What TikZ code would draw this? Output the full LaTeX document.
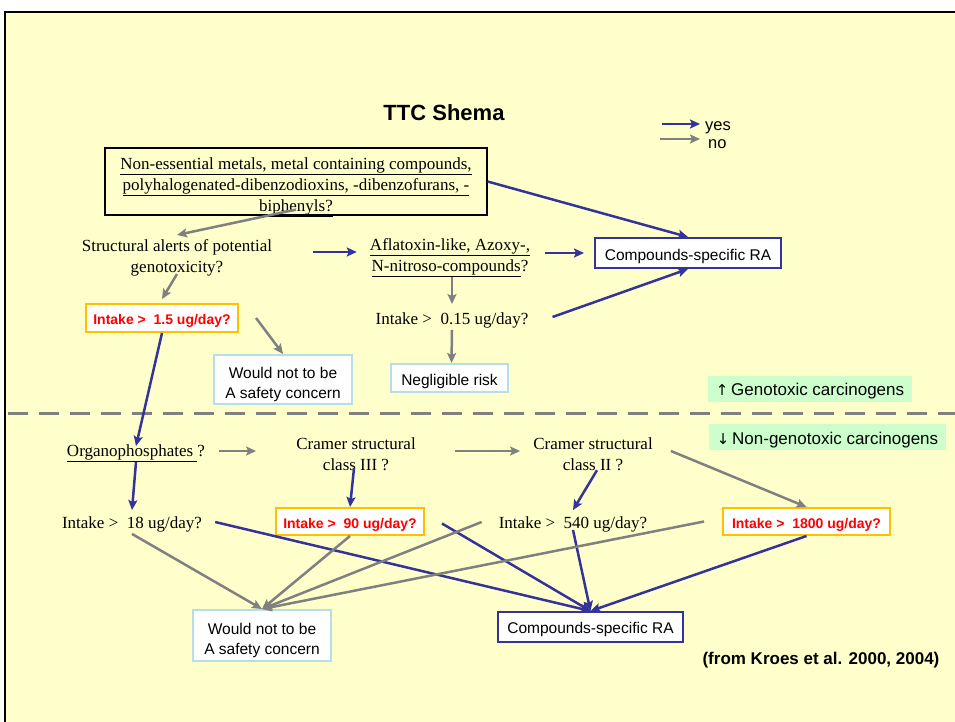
\documentclass[tikz,border=0pt]{standalone}
\usepackage{fontspec}
\setmainfont{Liberation Serif}
\setsansfont{Liberation Sans}
\newfontfamily\symfont{DejaVu Sans}
\usetikzlibrary{arrows.meta}
\definecolor{bgyellow}{HTML}{FFFFCC}
\definecolor{yesblue}{HTML}{333399}
\definecolor{nogray}{HTML}{808080}
\definecolor{orangeb}{HTML}{FFC000}
\definecolor{lblue}{HTML}{B7DDE8}
\definecolor{lgreen}{HTML}{CCFFCC}
\tikzset{
  serif/.style={font=\fontsize{17}{21}\selectfont, inner sep=0pt, align=center},
  tip/.style={-{Stealth[length=10pt,width=9pt,inset=2pt]}},
  yesarr/.style={draw=yesblue, line width=2.5pt, tip},
  noarr/.style={draw=nogray, line width=2.5pt, tip},
  redbox/.style={draw=orangeb, line width=2pt, fill=white, inner sep=0pt, minimum height=27pt},
  redlab/.style={text=red, inner sep=0pt, font=\sffamily\bfseries\fontsize{14}{16}\selectfont},
  bluebox/.style={draw=yesblue, line width=2pt, fill=white, inner sep=0pt, minimum height=30pt},
  paleb/.style={draw=lblue, line width=2pt, fill=white, inner sep=0pt},
  sanslab/.style={inner sep=0pt, align=center, font=\sffamily\fontsize{15.5}{20}\selectfont},
  greenlab/.style={fill=lgreen, inner sep=0pt, minimum height=26pt},
  greentext/.style={inner sep=0pt, font=\sffamily\fontsize{17}{20}\selectfont},
  legend/.style={font=\sffamily\fontsize{16.5}{18}\selectfont, inner sep=0pt, anchor=west},
}
\begin{document}
\begin{tikzpicture}[x=1pt,y=-1pt]
\useasboundingbox (0,0) rectangle (955,722);
\fill[bgyellow] (5,12) rectangle (955,722);
\draw[black, line width=2pt] (5,722) -- (5,12) -- (955,12);

% title and legend
\node[font=\sffamily\bfseries\fontsize{22}{24}\selectfont, inner sep=0pt] (title) at (444,113) {TTC Shema};
\node[legend] (yes) at (705,128) {yes};
\node[legend] (no) at (708,144) {no};
\coordinate (ly) at (662,124);
\coordinate (ln) at (660,139);
\draw[yesarr] (ly) -- ([xshift=-5pt,yshift=4pt]yes.west);
\draw[noarr] (ln) -- ([xshift=-8pt,yshift=5pt]no.west);

% upper part
\node[draw=black, line width=1.2pt, minimum width=382pt, minimum height=67pt, inner sep=0pt,
  label={[serif, yshift=-5.5pt]center:{\underline{Non-essential metals, metal containing compounds,}\\
   \underline{polyhalogenated-dibenzodioxins, -dibenzofurans, -}\\
   \underline{biphenyls?}}}] (top) at (296,181.5) {};
\node[serif] (struct) at (177,257.5) {Structural alerts of potential\\genotoxicity?};
\node[serif] (aflat) at (450,257.5) {\underline{Aflatoxin-like, Azoxy-,}\\\underline{N-nitroso-compounds}?};
\node[bluebox, minimum width=186pt,
  label={[sanslab, yshift=-3pt]center:Compounds-specific RA}] (rsa1) at (688,253) {};
\node[serif] (int015) at (452,320) {Intake >\ \ 0.15 ug/day?};
\node[paleb, minimum width=117pt, minimum height=28pt,
  label={[sanslab, yshift=-3pt]center:Negligible risk}] (neg) at (449.5,378) {};
\node[redbox, minimum width=152pt, minimum height=28pt,
  label={[redlab, yshift=-2.5pt]center:Intake >\ \ 1.5 ug/day?}] (i15) at (162,318) {};
\node[paleb, minimum width=138pt, minimum height=49pt,
  label={[sanslab, yshift=-4.5pt]center:{Would not to be\\A safety concern}}] (wn1) at (283,379.5) {};

\node[greenlab, minimum width=204pt,
  label={[greentext, yshift=-2pt]center:{{\symfont\fontsize{15}{18}\selectfont ↑}\,Genotoxic carcinogens}}] (geno) at (810,389) {};
\draw[nogray, line width=3pt, dash pattern=on 20pt off 11pt] (8,413) -- (955,413);
\node[greenlab, minimum width=237pt,
  label={[greentext, yshift=-3pt]center:{{\symfont\fontsize{15}{18}\selectfont ↓}\,Non-genotoxic carcinogens}}] (nongeno) at (827.5,437) {};

% lower part
\node[serif] (organo) at (136,453) {\underline{Organophosphates }?};
\node[serif] (c3) at (356,454.5) {Cramer structural\\class III ?};
\node[serif] (c2) at (593,454.5) {Cramer structural\\class II ?};
\node[serif] (i18) at (132,524) {Intake >\ \ 18 ug/day?};
\node[redbox, minimum width=148pt,
  label={[redlab, yshift=-3.5pt]center:Intake >\ \ 90 ug/day?}] (i90) at (350,521.5) {};
\node[serif] (i540) at (573,524) {Intake >\ \ 540 ug/day?};
\node[redbox, minimum width=167pt,
  label={[redlab, yshift=-3.5pt]center:Intake >\ \ 1800 ug/day?}] (i1800) at (806.5,521.5) {};
\node[paleb, minimum width=138pt, minimum height=51pt,
  label={[sanslab, yshift=-4.5pt]center:{Would not to be\\A safety concern}}] (wn2) at (262,635.5) {};
\node[bluebox, minimum width=185pt,
  label={[sanslab, yshift=-2.5pt]center:Compounds-specific RA}] (rsa2) at (590.5,627) {};
\node[font=\sffamily\bfseries\fontsize{17}{20}\selectfont, inner sep=0pt] (kroes) at (821,660) {(from Kroes et al. 2000, 2004)};

% upper arrows
\draw[noarr] ([yshift=6pt]top.south) -- ([yshift=4pt]struct.north);
\draw[yesarr] (top.east) -- (rsa1.north);
\draw[yesarr] ([xshift=41pt,yshift=5.5pt]struct.east) -- ([xshift=-13pt,yshift=5.5pt]aflat.west);
\draw[yesarr] ([xshift=15pt,yshift=4.5pt]aflat.east) -- ([xshift=-10pt]rsa1.west);
\draw[noarr] ([xshift=2pt]aflat.south) -- ([yshift=8pt]int015.north);
\draw[noarr] ([yshift=-2pt]int015.south) -- ([xshift=2pt]neg.north);
\draw[yesarr] ([xshift=24pt,yshift=3pt]int015.east) -- (rsa1.south);
\draw[noarr] ([yshift=2pt]struct.south) -- ([yshift=4pt]i15.north);
\draw[noarr] ([xshift=17pt]i15.east) -- (wn1.north);
\draw[yesarr] (i15.south) -- ([yshift=-2pt]organo.north);

% lower arrows
\draw[noarr] ([xshift=14pt,yshift=2pt]organo.east) -- ([xshift=-40pt,yshift=3.5pt]c3.west);
\draw[noarr] ([xshift=39pt,yshift=3.5pt]c3.east) -- ([xshift=-13pt,yshift=3.5pt]c2.west);
\draw[noarr] ([xshift=18pt,yshift=3.5pt]c2.east) -- (i1800.north);
\draw[yesarr] (organo.south) -- ([yshift=6pt]i18.north);
\draw[yesarr] ([xshift=-2pt,yshift=3pt]c3.south) -- (i90.north);
\draw[yesarr] ([xshift=4pt,yshift=1pt]c2.south) -- ([yshift=6pt]i540.north);
\draw[noarr] ([yshift=-2pt]i18.south) -- (wn2.north);
\draw[yesarr] ([xshift=13pt,yshift=2pt]i18.east) -- (rsa2.north);
\draw[noarr] (i90.south) -- (wn2.north);
\draw[yesarr] ([xshift=17pt,yshift=-2pt]i90.east) -- (rsa2.north);
\draw[noarr] ([xshift=-17pt,yshift=2pt]i540.west) -- (wn2.north);
\draw[yesarr] ([yshift=2pt]i540.south) -- (rsa2.north);
\draw[noarr] ([xshift=-18pt]i1800.west) -- (wn2.north);
\draw[yesarr] (i1800.south) -- (rsa2.north);
\end{tikzpicture}
\end{document}
